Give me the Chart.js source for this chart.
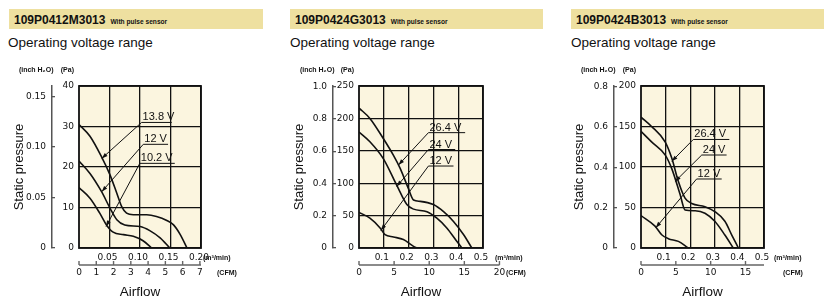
<!DOCTYPE html>
<html>
<head>
<meta charset="utf-8">
<script src="https://cdn.jsdelivr.net/npm/chart.js@4.4.1/dist/chart.umd.min.js"></script>
<style>
    body { margin: 0; width: 834px; height: 302px; background: #fff; position: relative; overflow: hidden;
           font-family: 'Liberation Sans', Arial, sans-serif; color: #111; }
    .head { position: absolute; top: 9px; height: 20px; line-height: 20px; width: 254px; background: #eee0a0; white-space: nowrap; }
    .model { font-weight: bold; font-size: 12px; margin-left: 5px; }
    .sensor { font-weight: bold; font-size: 6.6px; margin-left: 5px; }
    .sub { position: absolute; top: 35px; font-size: 13.5px; line-height: 16px; white-space: nowrap; }
    canvas { position: absolute; top: 60px; }
</style>
</head>
<body>
<div class="head" style="left:9px"><span class="model">109P0412M3013</span><span class="sensor">With pulse sensor</span></div>
<div class="sub" style="left:8px">Operating voltage range</div>
<div class="head" style="left:290px;width:253px"><span class="model">109P0424G3013</span><span class="sensor">With pulse sensor</span></div>
<div class="sub" style="left:290px">Operating voltage range</div>
<div class="head" style="left:571px;width:253px"><span class="model">109P0424B3013</span><span class="sensor">With pulse sensor</span></div>
<div class="sub" style="left:571px">Operating voltage range</div>

<canvas id="cA" width="280" height="242" style="left:0px"></canvas>
<canvas id="cB" width="280" height="242" style="left:280px"></canvas>
<canvas id="cC" width="274" height="242" style="left:560px"></canvas>

<script>
const M3_TO_CFM = 35.315
const PA_PER_INCH = 249.089

// 109P0412M3013  (airflow m3/min, static pressure Pa)
const voltsA = ['13.8 V', '12 V', '10.2 V']
const flowA138 = [0, 0.018, 0.037, 0.051, 0.062, 0.070, 0.078, 0.089, 0.111, 0.127, 0.144, 0.155, 0.166, 0.177]
const presA138 = [30.5, 27.6, 22.5, 18.0, 13.5, 10.2, 8.6, 8.2, 8.2, 7.8, 6.8, 5.7, 3.3, 0]
const flowA12 = [0, 0.018, 0.037, 0.051, 0.062, 0.075, 0.1, 0.116, 0.133, 0.149]
const presA12 = [21.5, 18.4, 13.9, 9.8, 7.0, 5.7, 5.3, 4.3, 2.5, 0]
const flowA102 = [0, 0.018, 0.034, 0.045, 0.056, 0.073, 0.089, 0.105, 0.119]
const presA102 = [14.9, 12.3, 8.6, 5.7, 3.9, 3.3, 2.9, 1.8, 0]
const flowTicksA = [0.05, 0.10, 0.15, 0.20]
const cfmTicksA = [0, 1, 2, 3, 4, 5, 6, 7]
const paTicksA = [0, 10, 20, 30, 40]
const inchTicksA = [0, 0.05, 0.10, 0.15]

// 109P0424G3013
const voltsB = ['26.4 V', '24 V', '12 V']
const flowB264 = [0, 0.044, 0.098, 0.139, 0.166, 0.199, 0.22, 0.247, 0.3, 0.341, 0.381, 0.422, 0.455]
const presB264 = [216, 200, 169, 143, 123, 92, 74, 72, 67, 56, 41, 20.5, 0]
const flowB24 = [0, 0.044, 0.098, 0.152, 0.193, 0.22, 0.274, 0.314, 0.354, 0.395, 0.415]
const presB24 = [179, 164, 138, 97, 67, 60, 56, 46, 31, 10, 0]
const flowB12 = [0, 0.044, 0.085, 0.105, 0.139, 0.179, 0.22, 0.233]
const presB12 = [55, 46, 31, 20.5, 17, 13, 2.5, 0]
const flowTicksB = [0.1, 0.2, 0.3, 0.4, 0.5]
const cfmTicksB = [0, 5, 10, 15, 20]
const paTicksB = [0, 50, 100, 150, 200, 250]
const inchTicksB = [0, 0.2, 0.4, 0.6, 0.8, 1.0]

// 109P0424B3013
const voltsC = ['26.4 V', '24 V', '12 V']
const flowC264 = [0, 0.043, 0.098, 0.125, 0.152, 0.179, 0.206, 0.26, 0.3, 0.341, 0.369, 0.396]
const presC264 = [161.5, 150, 131, 111, 82, 61.5, 55, 51, 45, 33, 16, 0]
const flowC24 = [0, 0.043, 0.098, 0.125, 0.159, 0.179, 0.22, 0.26, 0.3, 0.341, 0.375]
const presC24 = [144, 131, 115, 98, 66, 47, 46, 43, 33, 16, 0]
const flowC12 = [0, 0.057, 0.084, 0.111, 0.152, 0.192]
const presC12 = [40, 27, 16.4, 11.5, 8.2, 0]
const flowTicksC = [0.1, 0.2, 0.3, 0.4, 0.5]
const cfmTicksC = [0, 5, 10, 15]
const paTicksC = [0, 50, 100, 150, 200]
const inchTicksC = [0, 0.2, 0.4, 0.6, 0.8]

const plain = "'Liberation Sans', Arial, sans-serif"

// tick labels in the original use a condensed face; take one if it is installed
var probe = document.createElement('canvas').getContext('2d')
function widthOf(font) {
    probe.font = font
    return probe.measureText('0.15 0123456789').width
}
var tickFont = { family: plain, size: 9.5, style: 'normal' }
if (widthOf("10px 'Liberation Sans Narrow', monospace") !== widthOf('10px monospace')) {
    tickFont = { family: "'Liberation Sans Narrow'", size: 10.5, style: 'normal' }
} else if (widthOf("condensed 10px 'DejaVu Sans'") < widthOf("10px 'DejaVu Sans'") - 1) {
    tickFont = { family: "'DejaVu Sans'", size: 9, style: 'condensed' }
}

var panels = [{
    id: 'cA', xMax: 0.2, yMax: 40, flowDigits: 2, inchDigits: 2,
    curves: [[flowA138, presA138], [flowA12, presA12], [flowA102, presA102]], volts: voltsA,
    flowTicks: flowTicksA, cfmTicks: cfmTicksA, paTicks: paTicksA, inchTicks: inchTicksA,
    inchW: 52, paW: 27, padRight: 79, m3Gap: 2, cfmGap: 16,
    // leader lines: underline start x / y, underline end x, arrow tip (data units)
    notes: [
        { x: 0.1026, y: 31.0, x2: 0.152, tx: 0.0372, ty: 22.1 },
        { x: 0.1054, y: 25.6, x2: 0.146, tx: 0.0372, ty: 13.9 },
        { x: 0.0997, y: 20.9, x2: 0.157, tx: 0.0443, ty: 5.3 }
    ]
}, {
    id: 'cB', xMax: 0.5, yMax: 250, flowDigits: 1, inchDigits: 1,
    curves: [[flowB264, presB264], [flowB24, presB24], [flowB12, presB12]], volts: voltsB,
    flowTicks: flowTicksB, cfmTicks: cfmTicksB, paTicks: paTicksB, inchTicks: inchTicksB,
    inchW: 53, paW: 26, padRight: 77, m3Gap: 12, cfmGap: 23,
    notes: [
        { x: 0.28, y: 178, x2: 0.428, tx: 0.159, ty: 128 },
        { x: 0.28, y: 152, x2: 0.388, tx: 0.152, ty: 95 },
        { x: 0.28, y: 126.5, x2: 0.381, tx: 0.088, ty: 27 }
    ]
}, {
    id: 'cC', xMax: 0.5, yMax: 200, flowDigits: 1, inchDigits: 1,
    curves: [[flowC264, presC264], [flowC24, presC24], [flowC12, presC12]], volts: voltsC,
    flowTicks: flowTicksC, cfmTicks: cfmTicksC, paTicks: paTicksC, inchTicks: inchTicksC,
    inchW: 54, paW: 27, padRight: 70, m3Gap: 10, cfmGap: 19,
    notes: [
        { x: 0.2127, y: 134, x2: 0.359, tx: 0.125, ty: 107 },
        { x: 0.247, y: 114.8, x2: 0.348, tx: 0.138, ty: 82 },
        { x: 0.226, y: 85.2, x2: 0.328, tx: 0.06, ty: 25 }
    ]
}]

function makeDecor(p) {
    return {
        id: 'decor',
        beforeDraw(chart) {
            const a = chart.chartArea, ctx = chart.ctx
            ctx.save()
            ctx.fillStyle = '#fbf5df'
            ctx.fillRect(a.left, a.top, a.right - a.left, a.bottom - a.top)
            ctx.restore()
        },
        afterDraw(chart) {
            const { ctx, chartArea: a, scales } = chart
            const x = scales.x, y = scales.y, c = scales.x2, i = scales.y2
            ctx.save()
            // plot frame
            ctx.strokeStyle = '#111'
            ctx.lineWidth = 1.8
            ctx.strokeRect(a.left, a.top, a.right - a.left, a.bottom - a.top)

            // CFM axis line with ticks pointing up
            const cv = c.ticks.map(t => t.value)
            const end = Math.max(c.max, cv[cv.length - 1])
            ctx.strokeStyle = '#666'
            ctx.lineWidth = 1.4
            ctx.beginPath()
            ctx.moveTo(c.getPixelForValue(0), c.top)
            ctx.lineTo(c.getPixelForValue(end), c.top)
            cv.forEach(v => {
                const px = c.getPixelForValue(v)
                ctx.moveTo(px, c.top)
                ctx.lineTo(px, c.top - 4)
            })
            ctx.stroke()

            // unit labels
            ctx.fillStyle = '#111'
            ctx.font = 'bold 7px ' + plain
            ctx.textBaseline = 'middle'
            ctx.textAlign = 'left'
            ctx.fillText('(m³/min)', x.getPixelForValue(x.max) + p.m3Gap, a.bottom + 10)
            ctx.fillText('(CFM)', a.right + p.cfmGap, c.top + 8)
            ctx.textAlign = 'right'
            ctx.fillText('(inch H₂O)', i.right + 1.5, a.top - 16)
            ctx.fillText('(Pa)', a.left - 5, a.top - 16)

            // voltage labels with leader lines
            ctx.strokeStyle = '#111'
            ctx.fillStyle = '#111'
            ctx.lineWidth = 1
            p.notes.forEach((n, k) => {
                const lx = x.getPixelForValue(n.x), ly = y.getPixelForValue(n.y)
                const rx = x.getPixelForValue(n.x2)
                const tx = x.getPixelForValue(n.tx), ty = y.getPixelForValue(n.ty)
                ctx.beginPath()
                ctx.moveTo(rx, ly)
                ctx.lineTo(lx, ly)
                ctx.lineTo(tx, ty)
                ctx.stroke()
                const ang = Math.atan2(ty - ly, tx - lx)
                const ca = Math.cos(ang), sa = Math.sin(ang)
                ctx.beginPath()
                ctx.moveTo(tx, ty)
                ctx.lineTo(tx - 6 * ca + 2 * sa, ty - 6 * sa - 2 * ca)
                ctx.lineTo(tx - 6 * ca - 2 * sa, ty - 6 * sa + 2 * ca)
                ctx.closePath()
                ctx.fill()
                ctx.font = '11px ' + plain
                ctx.textAlign = 'left'
                ctx.textBaseline = 'alphabetic'
                ctx.fillText(p.volts[k], lx + 1, ly - 2)
            })
            ctx.restore()
        }
    }
}

panels.forEach(function (p) {
    new Chart(document.getElementById(p.id), {
        type: 'line',
        data: {
            datasets: p.curves.map(function (cv) {
                return {
                    data: cv[0].map((v, k) => ({ x: v, y: cv[1][k] })),
                    borderColor: '#111',
                    borderWidth: 1.6,
                    pointRadius: 0,
                    fill: false,
                    cubicInterpolationMode: 'monotone'
                }
            })
        },
        options: {
            responsive: false,
            animation: false,
            events: [],
            layout: { padding: { top: 26, left: 0, right: p.padRight, bottom: 0 } },
            plugins: { legend: { display: false }, tooltip: { enabled: false } },
            scales: {
                x: {
                    type: 'linear', position: 'bottom', weight: 0, min: 0, max: p.xMax,
                    afterBuildTicks: s => { s.ticks = p.flowTicks.map(v => ({ value: v })) },
                    ticks: {
                        autoSkip: false, maxRotation: 0, font: tickFont, color: '#111', padding: 4, labelOffset: -2,
                        callback: v => v.toFixed(p.flowDigits)
                    },
                    grid: { color: '#111', lineWidth: 1.3, drawTicks: false },
                    border: { display: false },
                    afterFit: s => { s.height = 17 }
                },
                x2: {
                    type: 'linear', position: 'bottom', weight: 1, min: 0, max: p.xMax * M3_TO_CFM,
                    afterBuildTicks: s => { s.ticks = p.cfmTicks.map(v => ({ value: v })) },
                    ticks: {
                        autoSkip: false, maxRotation: 0, font: tickFont, color: '#111', padding: 2,
                        callback: v => String(v)
                    },
                    grid: { display: false, drawTicks: false },
                    border: { display: false },
                    title: {
                        display: true, text: 'Airflow', color: '#111',
                        font: { family: plain, size: 13.5 }, padding: { top: 0, bottom: 2 }
                    },
                    afterFit: s => { s.height = 37 }
                },
                y: {
                    type: 'linear', position: 'left', weight: 0, min: 0, max: p.yMax,
                    afterBuildTicks: s => { s.ticks = p.paTicks.map(v => ({ value: v })) },
                    ticks: { font: tickFont, color: '#111', padding: 5, callback: v => String(v) },
                    grid: { color: '#111', lineWidth: 1.3, drawTicks: false },
                    border: { display: false },
                    afterFit: s => { s.width = p.paW }
                },
                y2: {
                    type: 'linear', position: 'left', weight: 1, min: 0, max: p.yMax / PA_PER_INCH,
                    afterBuildTicks: s => { s.ticks = p.inchTicks.map(v => ({ value: v })) },
                    ticks: {
                        font: tickFont, color: '#111', padding: 9,
                        callback: v => v === 0 ? '0' : v.toFixed(p.inchDigits)
                    },
                    grid: { drawOnChartArea: false, drawTicks: true, tickLength: -3, color: '#555', lineWidth: 1.3 },
                    border: { display: true, color: '#555', width: 1.5 },
                    title: {
                        display: true, text: 'Static pressure', color: '#111',
                        font: { family: plain, size: 13 }, padding: { top: 11.7, bottom: 0 }
                    },
                    afterFit: s => { s.width = p.inchW }
                }
            }
        },
        plugins: [makeDecor(p)]
    })
})
</script>
</body>
</html>
